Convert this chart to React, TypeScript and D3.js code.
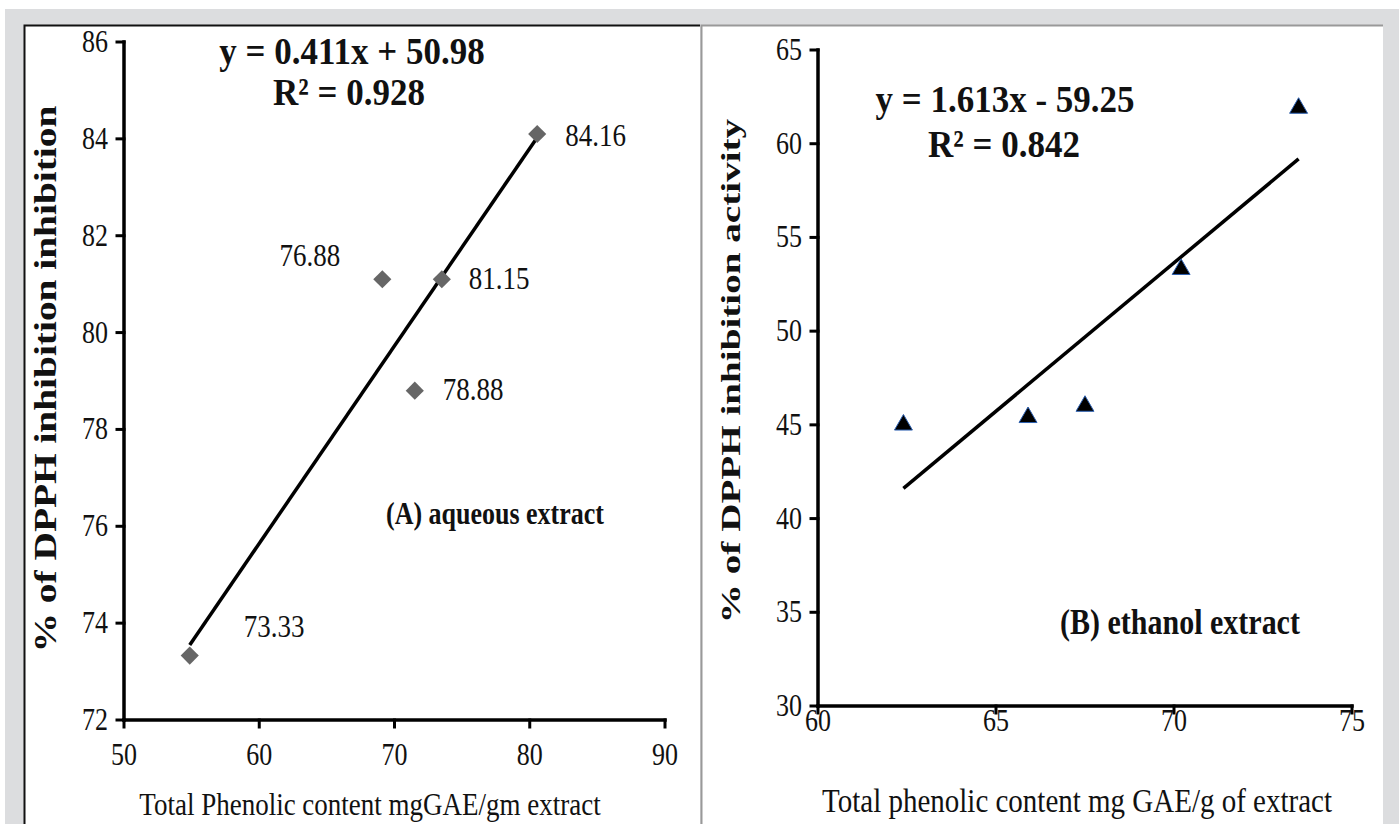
import * as d3 from 'd3';

// (A) aqueous extract
const aqX = [54.86, 69.1, 73.5, 71.5, 80.55];
const aqY = [73.33, 81.1, 81.1, 78.8, 84.1];
const aqLabels = ['73.33', '76.88', '81.15', '78.88', '84.16'];
const aqXTicks = [50, 60, 70, 80, 90];
const aqYTicks = [72, 74, 76, 78, 80, 82, 84, 86];

// (B) ethanol extract
const etX = [62.4, 65.9, 67.5, 70.2, 73.5];
const etY = [45, 45.4, 46, 53.3, 61.9];
const etXTicks = [60, 65, 70, 75];
const etYTicks = [30, 35, 40, 45, 50, 55, 60, 65];

// least squares fit, same as the Excel trendline
const fit = (xs: number[], ys: number[]) => {
  const mx = d3.mean(xs)!, my = d3.mean(ys)!;
  let sxy = 0, sxx = 0;
  xs.forEach((x, i) => { sxy += (x - mx) * (ys[i] - my); sxx += (x - mx) ** 2; });
  const m = sxy / sxx;
  return (x: number) => my + m * (x - mx);
};

const serif = '"Liberation Serif", "Times New Roman", serif';

// text with a vertical stretch (the source image is not square-pixelled)
const T = ({ x, y, s = 1.18, rot = false, size, bold = false, anchor = 'middle', children }: any) => (
  <text
    transform={`translate(${x},${y}) scale(1,${s})${rot ? ' rotate(-90)' : ''}`}
    fontFamily={serif}
    fontSize={size}
    fontWeight={bold ? 'bold' : 'normal'}
    textAnchor={anchor}
    fill="#111"
  >
    {children}
  </text>
);

const Axes = ({ x, y, xTicks, yTicks }: any) => {
  const [x0, x1] = x.range();
  const [y0, y1] = y.range();
  return (
    <g stroke="#000" strokeLinecap="square">
      <line x1={x0} x2={x1} y1={y0} y2={y0} strokeWidth={3.5} />
      <line x1={x0} x2={x0} y1={y0} y2={y1} strokeWidth={3.5} />
      {xTicks.map((t: number) => (
        <line key={'x' + t} x1={x(t)} x2={x(t)} y1={y0} y2={y0 + 7} strokeWidth={3} />
      ))}
      {yTicks.map((t: number) => (
        <line key={'y' + t} x1={x0 - 7} x2={x0} y1={y(t)} y2={y(t)} strokeWidth={3} />
      ))}
    </g>
  );
};

export default function App() {
  const W = 1399, H = 824;

  const xa = d3.scaleLinear().domain([50, 90]).range([124, 665]);
  const ya = d3.scaleLinear().domain([72, 86]).range([720, 42]);
  const xb = d3.scaleLinear().domain([60, 75]).range([818, 1352]);
  const yb = d3.scaleLinear().domain([30, 65]).range([706, 50]);

  const fa = fit(aqX, aqY);
  const fb = fit(etX, etY);
  const [aMin, aMax] = d3.extent(aqX) as [number, number];
  const [bMin, bMax] = d3.extent(etX) as [number, number];

  const diamond = d3.symbol().type(d3.symbolDiamond2).size(210)()!;
  const tri = d3.symbol().type(d3.symbolTriangle2).size(230)()!;

  // label offsets for the five aqueous points
  const lblOff = [
    [54, -19, 'start'],
    [-42, -13, 'end'],
    [27, 10, 'start'],
    [28, 9, 'start'],
    [28, 12, 'start'],
  ];

  return (
    <svg width={W} height={H} style={{ position: 'absolute', left: 0, top: 0 }}>
      <rect width={W} height={H} fill="#dcdddf" />
      <rect x={0} y={0} width={W} height={9} fill="#fff" />
      <rect x={0} y={0} width={5} height={H} fill="#fff" />
      <rect x={24} y={25} width={676} height={H} fill="#fff" />
      <rect x={701} y={25} width={682} height={H} fill="#fff" />
      <path d={`M24.5,${H}V25.5H700`} fill="none" stroke="#111" strokeWidth={2} />
      <path d={`M701.5,${H}V25.5H1383`} fill="none" stroke="#999" strokeWidth={2} />

      {/* (A) */}
      <Axes x={xa} y={ya} xTicks={aqXTicks} yTicks={aqYTicks} />
      {aqYTicks.map(t => (
        <T key={t} x={108} y={ya(t) + 10} size={26} anchor="end">{t}</T>
      ))}
      {aqXTicks.map(t => (
        <T key={t} x={xa(t)} y={765} size={26}>{t}</T>
      ))}
      <line x1={xa(aMin)} y1={ya(fa(aMin))} x2={xa(aMax)} y2={ya(fa(aMax))} stroke="#000" strokeWidth={3.5} />
      {aqX.map((v, i) => (
        <path key={i} d={diamond} transform={`translate(${xa(v)},${ya(aqY[i])})`} fill="#666" />
      ))}
      {aqX.map((v, i) => (
        <T key={i} x={xa(v) + (lblOff[i][0] as number)} y={ya(aqY[i]) + (lblOff[i][1] as number)} size={27} anchor={lblOff[i][2]}>
          {aqLabels[i]}
        </T>
      ))}
      <T x={352} y={64} size={35} s={1.1} bold>y = 0.411x + 50.98</T>
      <T x={349} y={105} size={35} s={1.1} bold>R² = 0.928</T>
      <T x={495} y={524} size={26} bold>(A) aqueous extract</T>
      <T x={370} y={815} size={27}>Total Phenolic content mgGAE/gm extract</T>
      <T x={56} y={379} size={32} bold rot s={1.23}>% of DPPH inhibition inhibition</T>

      {/* (B) */}
      <Axes x={xb} y={yb} xTicks={etXTicks} yTicks={etYTicks} />
      {etYTicks.map(t => (
        <T key={t} x={802} y={yb(t) + 10} size={26} anchor="end">{t}</T>
      ))}
      {etXTicks.map(t => (
        <T key={t} x={xb(t)} y={731} size={26}>{t}</T>
      ))}
      <line x1={xb(bMin)} y1={yb(fb(bMin))} x2={xb(bMax)} y2={yb(fb(bMax))} stroke="#000" strokeWidth={3.5} />
      {etX.map((v, i) => (
        <path key={i} d={tri} transform={`translate(${xb(v)},${yb(etY[i])})`} fill="#000" stroke="#2b5fb0" strokeWidth={1} />
      ))}
      <T x={1005} y={112} size={35} s={1.1} bold>y = 1.613x - 59.25</T>
      <T x={1004} y={157} size={35} s={1.1} bold>R² = 0.842</T>
      <T x={1180} y={634} size={30} bold>(B) ethanol extract</T>
      <T x={1077} y={812} size={29}>Total phenolic content mg GAE/g of extract</T>
      <T x={740} y={371} size={27} bold rot s={1.45}>% of DPPH inhibition activity</T>
    </svg>
  );
}
